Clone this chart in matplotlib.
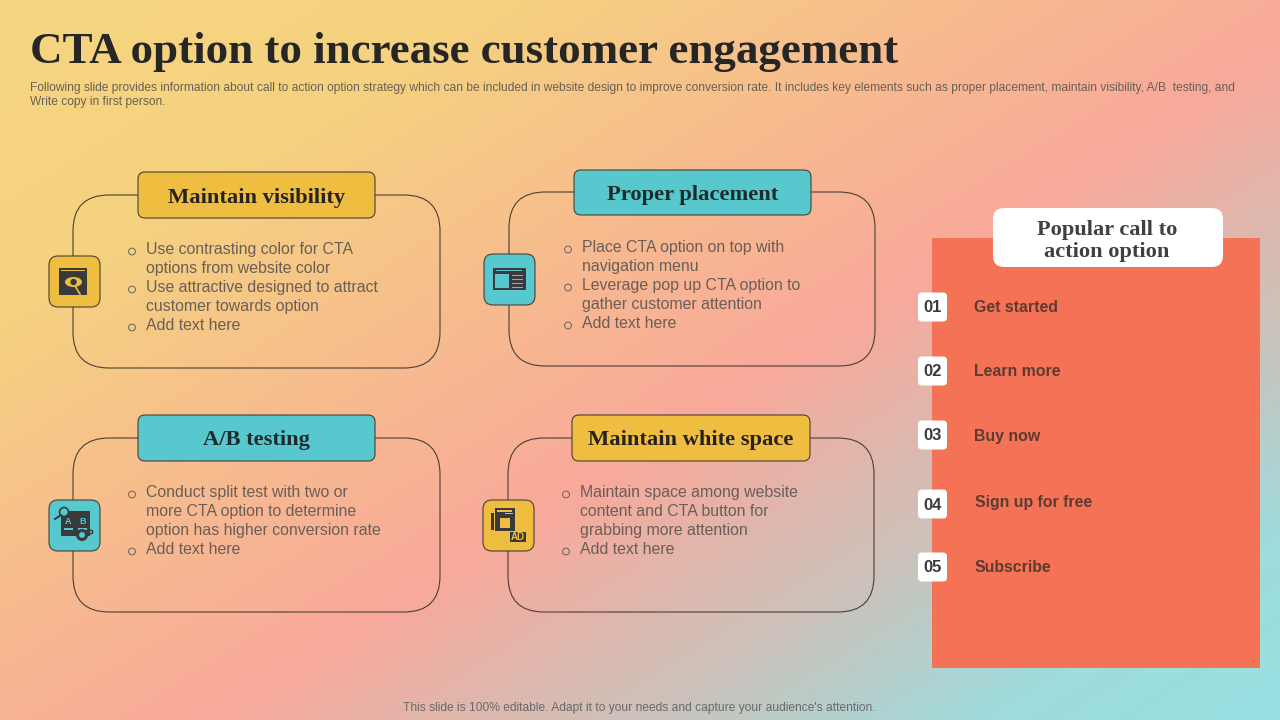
"""CTA options slide, drawn on a pixel-sized axes."""

import numpy as np
import matplotlib
matplotlib.use("Agg")
import matplotlib.pyplot as plt
from matplotlib.colors import LinearSegmentedColormap
from matplotlib.patches import FancyBboxPatch, Rectangle, Circle, Ellipse

plt.rcParams["font.family"] = ["Liberation Sans", "DejaVu Sans"]

TITLE = "CTA option to increase customer engagement"
SUBTITLE = [
    "Following slide provides information about call to action option strategy which can be included in website design to improve conversion rate. It includes key elements such as proper placement, maintain visibility, A/B  testing, and",
    "Write copy in first person.",
]
FOOTER = "This slide is 100% editable. Adapt it to your needs and capture your audience's attention."

CARD_TITLES = ["Maintain visibility", "Proper placement", "A/B testing", "Maintain white space"]
CARD_BULLETS = [
    [["Use contrasting color for CTA", "options from website color"],
     ["Use attractive designed to attract", "customer towards option"],
     ["Add text here"]],
    [["Place CTA option on top with", "navigation menu"],
     ["Leverage pop up CTA option to", "gather customer attention"],
     ["Add text here"]],
    [["Conduct split test with two or", "more CTA option to determine", "option has higher conversion rate"],
     ["Add text here"]],
    [["Maintain space among website", "content and CTA button for", "grabbing more attention"],
     ["Add text here"]],
]
POPULAR_TITLE = ["Popular call to", "action option"]
POPULAR_NUMBERS = ["01", "02", "03", "04", "05"]
POPULAR_LABELS = ["Get started", "Learn more", "Buy now", "Sign up for free", "Subscribe"]

YELLOW = "#efbd40"
TEAL = "#56c8ce"
LINE = "#4a3f35"
DARK = "#3a3a3c"

# frame (x0, y0, x1, y1), header (x0, y0, x1, y1), icon (x0, y0), first text line y, bullet x, text x
CARD_LAYOUT = [
    ((73, 195, 440, 368), (138, 172, 375, 218), (49, 256), 249.5, 132, 146, YELLOW),
    ((509, 192, 875, 366), (574, 170, 811, 215), (484, 254), 247.5, 568, 582, TEAL),
    ((73, 438, 440, 612), (138, 415, 375, 461), (49, 500), 492.5, 132, 146, TEAL),
    ((508, 438, 874, 612), (572, 415, 810, 461), (483, 500), 492.5, 566, 580, YELLOW),
]
NUMBER_Y = [307, 371, 435, 504, 567]
LABEL_Y = [308, 371, 436, 502, 568]
LABEL_X = [974, 974, 974, 975, 975]

fig = plt.figure(figsize=(12.8, 7.2), dpi=100)
ax = fig.add_axes([0, 0, 1, 1])
ax.set_xlim(0, 1280)
ax.set_ylim(720, 0)
ax.axis("off")

# diagonal slide background
yy, xx = np.mgrid[0:720, 0:1280]
grad = (0.53 * xx + 0.85 * yy) / (0.53 * 1280 + 0.85 * 720)
bg_cmap = LinearSegmentedColormap.from_list(
    "bg", [(0, "#f5d57f"), (0.2, "#f5d27f"), (0.56, "#f9a99b"), (0.74, "#cbc2bb"), (0.88, "#9fdcdd"), (1, "#98e0e2")]
)
ax.imshow(grad, cmap=bg_cmap, vmin=0, vmax=1, extent=(0, 1280, 720, 0), aspect="auto", zorder=0)


def round_box(x0, y0, x1, y1, radius, face="none", edge=LINE, lw=0.8, z=2):
    patch = FancyBboxPatch((x0, y0), x1 - x0, y1 - y0, boxstyle=f"round,pad=0,rounding_size={radius}",
                           facecolor=face, edgecolor=edge, linewidth=lw, zorder=z)
    ax.add_patch(patch)
    return patch


def rect(x, y, w, h, color=DARK, z=5):
    ax.add_patch(Rectangle((x, y), w, h, facecolor=color, edgecolor="none", zorder=z))


def icon_eye(x, y, bg):
    rect(x + 10, y + 12, 28, 27)
    rect(x + 12, y + 14, 24, 1, bg, 6)
    ax.add_patch(Ellipse((x + 24.5, y + 26), 17, 10, facecolor=bg, edgecolor="none", zorder=6))
    ax.add_patch(Circle((x + 24.5, y + 26), 3.2, facecolor=DARK, edgecolor="none", zorder=7))
    ax.plot([x + 26, x + 31], [y + 30, y + 38], color=bg, lw=1.2, zorder=7)


def icon_window(x, y, bg):
    rect(x + 9, y + 14, 33, 22)
    rect(x + 11, y + 20, 14, 14, bg, 6)
    for dy in (21, 25, 29, 33):
        rect(x + 28, y + dy, 11, 1, bg, 6)
    rect(x + 12, y + 16, 26, 1, bg, 6)


def icon_ab(x, y, bg):
    rect(x + 12, y + 11, 29, 25)
    ax.text(x + 19, y + 21, "A", color=bg, fontsize=6.5, fontweight="bold", ha="center", va="center", zorder=6)
    ax.text(x + 34, y + 21, "B", color=bg, fontsize=6.5, fontweight="bold", ha="center", va="center", zorder=6)
    rect(x + 15, y + 28, 9, 1.5, bg, 6)
    rect(x + 29, y + 28, 9, 1.5, bg, 6)
    ax.add_patch(Circle((x + 15, y + 12), 4.5, facecolor=bg, edgecolor=DARK, linewidth=1.2, zorder=7))
    ax.plot([x + 6, x + 12], [y + 19, y + 15], color=DARK, lw=1.4, zorder=7)
    ax.add_patch(Circle((x + 33, y + 35), 4.5, facecolor=bg, edgecolor=DARK, linewidth=2.2, zorder=7))
    ax.add_patch(Circle((x + 42, y + 32), 1.8, facecolor=bg, edgecolor=DARK, linewidth=1.0, zorder=7))


def icon_ad(x, y, bg):
    rect(x + 12, y + 8, 20, 23)
    rect(x + 8, y + 13, 3, 17)
    rect(x + 14, y + 10, 15, 2, bg, 6)
    rect(x + 22, y + 13, 8, 1, bg, 6)
    rect(x + 17, y + 18, 10, 10, bg, 6)
    rect(x + 27, y + 32, 16, 10, DARK, 6)
    ax.text(x + 35, y + 37, "AD", color=bg, fontsize=7, fontweight="bold", ha="center", va="center", zorder=7)


ICONS = [icon_eye, icon_window, icon_ab, icon_ad]

# title block
ax.text(30, 62.5, TITLE, fontsize=32.4, fontweight="bold", family="Liberation Serif", color="#262626",
        ha="left", va="baseline", zorder=3)
ax.text(30, 87.5, SUBTITLE[0], fontsize=8.67, color="#6a6055", ha="left", va="center", zorder=3)
ax.text(30, 101.5, SUBTITLE[1], fontsize=8.67, color="#6a6055", ha="left", va="center", zorder=3)
ax.text(639, 708, FOOTER, fontsize=8.65, color="#6a6a6a", ha="center", va="center", zorder=3)

# four cards
for i, (frame, header, icon, first_y, bullet_x, text_x, color) in enumerate(CARD_LAYOUT):
    round_box(*frame, 36)
    round_box(*header, 7, face=color, z=3)
    ix, iy = icon
    round_box(ix, iy, ix + 51, iy + 51, 9, face=color, z=3)
    ICONS[i](ix, iy, color)
    head_color = "#1f2a2c" if color == TEAL else "#262220"
    ax.text((header[0] + header[2]) / 2, (header[1] + header[3]) / 2 + 2.5, CARD_TITLES[i], fontsize=16.2,
            fontweight="bold", family="Liberation Serif", color=head_color, ha="center", va="center", zorder=4)
    y = first_y
    for bullet in CARD_BULLETS[i]:
        ax.add_patch(Circle((bullet_x, y + 2), 3.4, facecolor="none", edgecolor="#6a5f58", linewidth=0.7, zorder=4))
        for line in bullet:
            ax.text(text_x, y, line, fontsize=11.45, color="#6a5f58", ha="left", va="center", zorder=4)
            y += 19

# popular options panel
rect(932, 238, 328, 430, "#f47356", 2)
round_box(993, 208, 1223, 267, 11, face="white", edge="none", lw=0, z=3)
for line, y in zip(POPULAR_TITLE, [230.5, 252.5]):
    ax.text(1107, y, line, fontsize=16.1, fontweight="bold", family="Liberation Serif", color="#404040",
            ha="center", va="center", zorder=4)
for num, label, ny, ly, lx in zip(POPULAR_NUMBERS, POPULAR_LABELS, NUMBER_Y, LABEL_Y, LABEL_X):
    round_box(918, ny - 14.5, 947, ny + 14.5, 4, face="white", edge="none", lw=0, z=3)
    ax.text(932.5, ny + 1, num, fontsize=12, fontweight="bold", color="#3a3a3a", ha="center", va="center", zorder=4)
    ax.text(lx, ly, label, fontsize=11.45, fontweight="bold", color="#5e3a30", ha="left", va="center", zorder=4)

fig.savefig("out.png", dpi=100)
plt.close(fig)
